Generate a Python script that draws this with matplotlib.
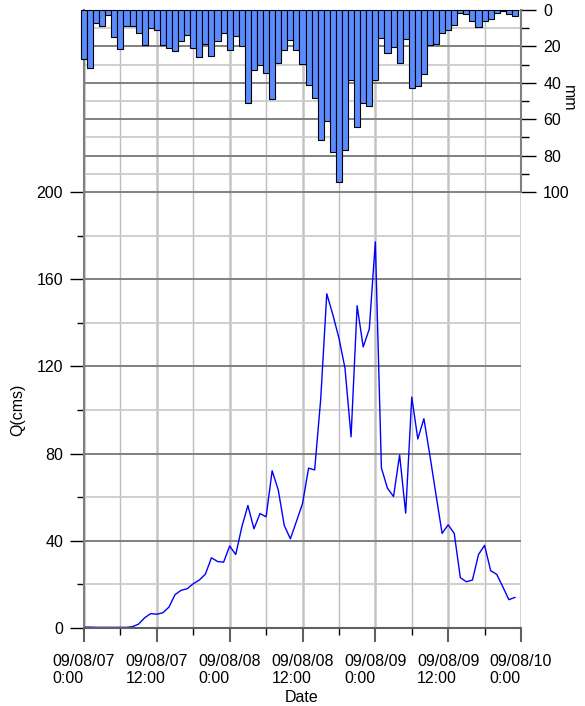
import numpy as np
import matplotlib
matplotlib.use("Agg")
import matplotlib.pyplot as plt
from matplotlib.ticker import MultipleLocator

plt.rcParams['font.family'] = ['Liberation Sans', 'DejaVu Sans']
plt.rcParams['font.size'] = 11.5

# hourly values, 09/08/07 0:00 .. 09/08/09 23:00
hours = np.arange(72)
rain = [27, 32, 7.3, 8.8, 2.7, 15, 21.2, 8.8, 8.8, 12.8, 19.2, 9.9,
        11.2, 19.2, 20.7, 22.7, 17.2, 13.7, 20.9, 25.8, 18.7, 25.3, 17.2, 12.8,
        21.8, 14.1, 19.8, 51.3, 32.8, 30.2, 34.6, 48.9, 29.1, 21.8, 16.3, 21.8,
        29.7, 41.2, 48.4, 71.4, 61.2, 77.8, 94.3, 76.7, 38.3, 64.3, 50.9, 52.7,
        38.6, 15.2, 23.8, 20.3, 29.3, 16.1, 42.9, 41.8, 35.2, 19.2, 18.7, 12.6,
        11.2, 8.2, 1.8, 2.2, 6.2, 9.3, 5.9, 5.1, 1.8, 0.4, 2.2, 3.3]
flow = [0.4, 0.4, 0.3, 0.3, 0.3, 0.3, 0.3, 0.3, 0.6, 1.8, 4.7, 6.6,
        6.3, 7.0, 9.6, 15.3, 17.3, 18.0, 20.3, 22.0, 24.7, 32.2, 30.5, 30.2,
        37.6, 33.7, 46.3, 56.2, 45.5, 52.5, 51.0, 72.1, 63.4, 47.0, 40.9, 48.9,
        57.0, 73.3, 72.5, 105, 153.3, 143.7, 133, 119.2, 87.7, 147.8, 128.9, 137.1,
        177.1, 73.4, 64.1, 60.3, 79.4, 52.7, 105.9, 86.7, 96, 79, 61, 43.4,
        47.3, 43.4, 23.1, 21.2, 22.0, 33.7, 37.9, 26.3, 24.6, 18.9, 13.0, 14.0]
date_ticks = [0, 12, 24, 36, 48, 60, 72]
date_labels = ["09/08/07\n0:00", "09/08/07\n12:00", "09/08/08\n0:00",
               "09/08/08\n12:00", "09/08/09\n0:00", "09/08/09\n12:00",
               "09/08/10\n0:00"]

fig = plt.figure(figsize=(5.85, 7.06), dpi=100)
ax = fig.add_axes([0.1436, 0.1105, 0.747, 0.6176])
ax_top = fig.add_axes([0.1436, 0.728, 0.747, 0.2578])

# hydrograph
ax.plot(hours, flow, color='#0000ff', lw=1)
ax.set_xlim(0, 72)
ax.set_ylim(0, 200)
ax.set_xticks(date_ticks)
ax.set_xticklabels(date_labels, multialignment='left', linespacing=1.1)
ax.xaxis.set_minor_locator(MultipleLocator(6))
ax.yaxis.set_major_locator(MultipleLocator(40))
ax.yaxis.set_minor_locator(MultipleLocator(20))
ax.set_axisbelow(True)
ax.grid(which='major', axis='x', color='#c4c4c4', lw=1.8)
ax.grid(which='minor', axis='x', color='#bcbcbc', lw=1.0)
ax.grid(which='major', axis='y', color='#808080', lw=1.4)
ax.grid(which='minor', axis='y', color='#cccccc', lw=1.3)
ax.spines['top'].set_visible(False)
ax.spines['right'].set_visible(False)
ax.spines['left'].set_color('#808080')
ax.spines['left'].set_linewidth(1.5)
ax.spines['bottom'].set_color('#606060')
ax.spines['bottom'].set_linewidth(1.5)
ax.tick_params(axis='y', which='major', length=10, width=1, color='black', pad=5)
ax.tick_params(axis='y', which='minor', length=5, width=1, color='black')
ax.tick_params(axis='x', which='major', length=10, width=1.5, color='#606060', pad=9)
ax.tick_params(axis='x', which='minor', length=5, width=1, color='black')
ax.text(-0.151, 0.5, 'Q(cms)', rotation=90, ha='center', va='center',
        transform=ax.transAxes)
ax.text(0.499, -0.159, 'Date', ha='center', va='center', transform=ax.transAxes)

# hyetograph
ax_top.bar(hours, rain, width=1, color='#5b8cff', edgecolor='black', lw=0.8,
           clip_on=False, zorder=3)
ax_top.set_xlim(0, 72)
ax_top.set_ylim(100, 0)
ax_top.set_xticks(date_ticks)
ax_top.xaxis.set_minor_locator(MultipleLocator(6))
ax_top.yaxis.tick_right()
ax_top.yaxis.set_major_locator(MultipleLocator(20))
ax_top.yaxis.set_minor_locator(MultipleLocator(10))
ax_top.set_axisbelow(True)
ax_top.grid(which='major', axis='x', color='#c4c4c4', lw=1.8)
ax_top.grid(which='minor', axis='x', color='#bcbcbc', lw=1.0)
ax_top.grid(which='major', axis='y', color='#808080', lw=1.4)
ax_top.grid(which='minor', axis='y', color='#cccccc', lw=1.3)
ax_top.spines['top'].set_visible(False)
ax_top.spines['bottom'].set_visible(False)
ax_top.spines['left'].set_color('#808080')
ax_top.spines['left'].set_linewidth(1.5)
ax_top.spines['right'].set_color('#808080')
ax_top.spines['right'].set_linewidth(1.5)
ax_top.tick_params(axis='x', which='both', length=0, labelbottom=False)
ax_top.tick_params(axis='y', which='major', length=11, width=1, color='black', pad=5)
ax_top.tick_params(axis='y', which='minor', length=6, width=1, color='black')
ax_top.text(1.1076, 0.516, 'mm', rotation=-90, ha='center', va='center',
            transform=ax_top.transAxes)

fig.savefig('out.png', dpi=100)
